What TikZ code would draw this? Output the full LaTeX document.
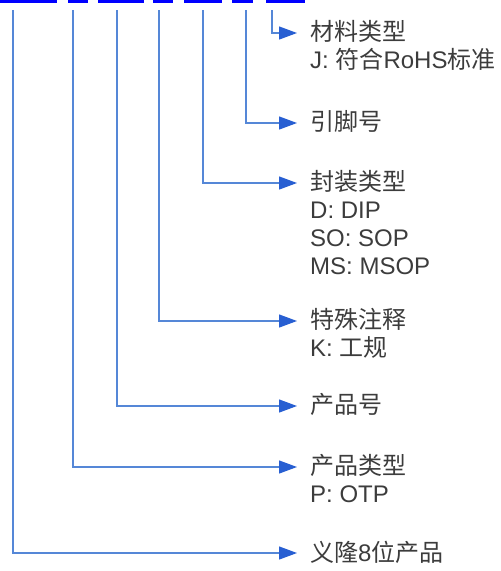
\documentclass[tikz,border=0pt]{standalone}
\usepackage{fontspec}
\setmainfont{Liberation Sans}
\newfontfamily\cjk{Noto Sans CJK SC}
\usetikzlibrary{arrows.meta, positioning}
\definecolor{partblue}{RGB}{0,0,255}
\definecolor{linkblue}{RGB}{85,135,215}
\definecolor{tipblue}{RGB}{40,95,210}
\definecolor{labelgray}{RGB}{60,60,60}

\begin{document}
\begin{tikzpicture}[x=1pt,y=-1pt,
  field/.style={partblue,line width=3pt},
  link/.style={linkblue,line width=1.3pt,-{Triangle[length=18pt,width=13pt,color=tipblue]}},
  label/.style={labelgray,inner sep=0pt,anchor=north west,yshift=12.5pt,align=left,font=\fontsize{24}{28}\selectfont}]
  \useasboundingbox (0,0) rectangle (501,571);

  % fields of the part number
  \foreach \a/\b in {0/57, 68/88, 98/144, 153/173, 184/222, 232/253, 266/305}
    \draw[field] (\a,1.5) -- (\b,1.5);

  \foreach \n/\x in {1/13, 2/73, 3/117, 4/159, 5/203, 6/246, 7/272}
    \coordinate (s\n) at (\x,10);
  \foreach \n/\y in {1/553, 2/467, 3/406, 4/321, 5/183, 6/123, 7/33}
    \coordinate (t\n) at (297,\y);

  \node (material) [right=13pt of t7,label] {{\cjk 材料类型}\\J: {\cjk 符合}RoHS{\cjk 标准}};
  \node (pins)     [right=13pt of t6,label] {{\cjk 引脚号}};
  \node (package)  [right=13pt of t5,label] {{\cjk 封装类型}\\D: DIP\\SO: SOP\\MS: MSOP};
  \node (special)  [right=13pt of t4,label] {{\cjk 特殊注释}\\K: {\cjk 工规}};
  \node (number)   [right=13pt of t3,label] {{\cjk 产品号}};
  \node (type)     [right=13pt of t2,label] {{\cjk 产品类型}\\P: OTP};
  \node (family)   [right=13pt of t1,label] {{\cjk 义隆}8{\cjk 位产品}};

  \foreach \n in {1,...,7}
    \draw[link] (s\n) |- (t\n);
\end{tikzpicture}
\end{document}
